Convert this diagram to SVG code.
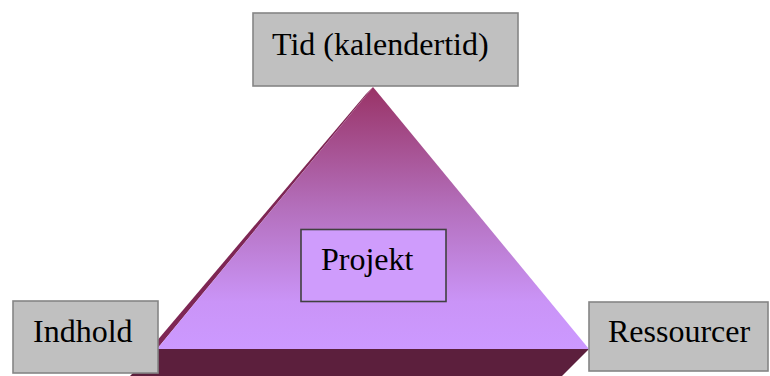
<svg xmlns="http://www.w3.org/2000/svg" width="770" height="376" viewBox="0 0 770 376">
  <style>
    .box { fill: #c0c0c0; stroke: #858585; stroke-width: 1.6; }
    .core { fill: #cf9cfc; stroke: #404040; stroke-width: 1.6; }
    .label { font-family: "Liberation Serif", "Times New Roman", serif; font-size: 32px; fill: #000000; }
  </style>
  <defs>
    <linearGradient id="faceShade" x1="0" y1="87" x2="0" y2="349" gradientUnits="userSpaceOnUse">
      <stop offset="0" stop-color="#993366"/>
      <stop offset="0.45" stop-color="#b36eba"/>
      <stop offset="0.82" stop-color="#ca94f7"/>
      <stop offset="1" stop-color="#cc99ff"/>
    </linearGradient>
  </defs>

  <!-- pyramid: base, side edge and front face -->
  <g id="pyramid">
    <polygon points="157,349 589,349 562,376 130,376" fill="#5c1f3d"/>
    <polygon points="373,87 366,94 150,349 157,349" fill="#7e2654"/>
    <polygon points="373,87 589,349 157,349" fill="url(#faceShade)"/>
  </g>

  <g id="connectors"></g>

  <g id="node-projekt">
    <rect class="core" x="301" y="229.5" width="145" height="72"/>
    <text class="label" x="321" y="270">Projekt</text>
  </g>

  <g id="node-tid">
    <rect class="box" x="253" y="13" width="265" height="73"/>
    <text class="label" x="272" y="55">Tid (kalendertid)</text>
  </g>

  <g id="node-indhold">
    <rect class="box" x="13" y="301" width="145" height="72"/>
    <text class="label" x="33" y="342">Indhold</text>
  </g>

  <g id="node-ressourcer">
    <rect class="box" x="589" y="302" width="179" height="69"/>
    <text class="label" x="608" y="342">Ressourcer</text>
  </g>
</svg>
